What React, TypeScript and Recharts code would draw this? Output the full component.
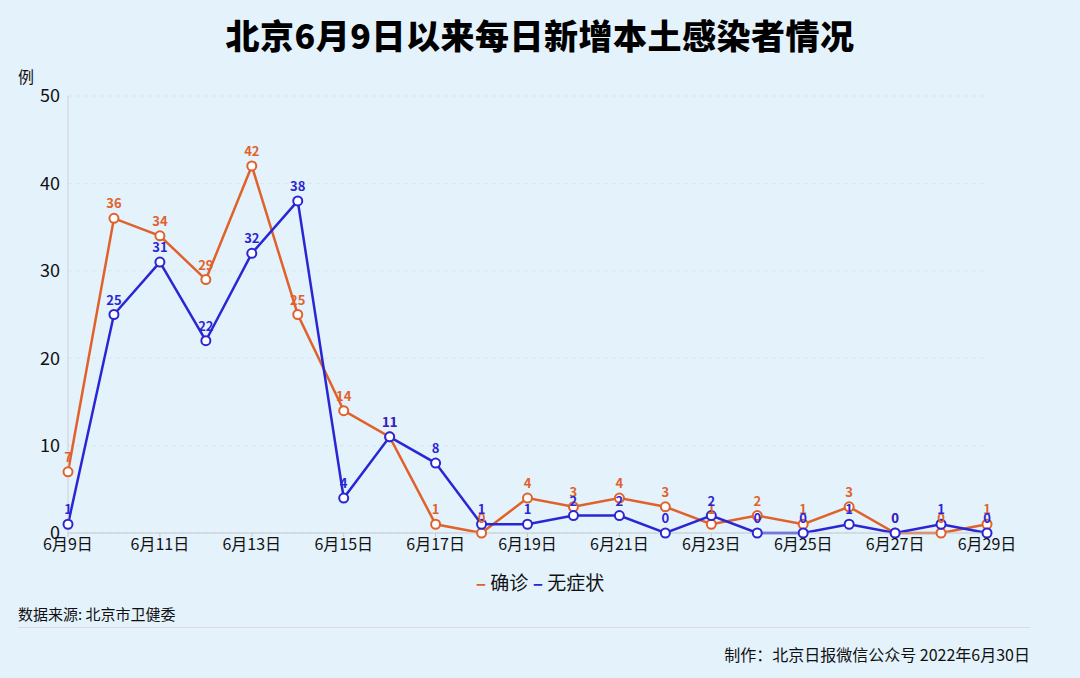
import { LineChart, Line, XAxis, YAxis, CartesianGrid, LabelList } from "recharts";

const dates = [
  "6月9日", "6月10日", "6月11日", "6月12日", "6月13日", "6月14日", "6月15日",
  "6月16日", "6月17日", "6月18日", "6月19日", "6月20日", "6月21日", "6月22日",
  "6月23日", "6月24日", "6月25日", "6月26日", "6月27日", "6月28日", "6月29日",
];
const confirmed = [7, 36, 34, 29, 42, 25, 14, 11, 1, 0, 4, 3, 4, 3, 1, 2, 1, 3, 0, 0, 1];
const asymptomatic = [1, 25, 31, 22, 32, 38, 4, 11, 8, 1, 1, 2, 2, 0, 2, 0, 0, 1, 0, 1, 0];
const yTicks = [0, 10, 20, 30, 40, 50];

const ORANGE = "#e0622a";
const BLUE = "#2a26d4";
const CJK = '"Noto Sans CJK SC", "Noto Sans", sans-serif';

const data = dates.map((d, i) => ({
  date: d,
  confirmed: confirmed[i],
  asymptomatic: asymptomatic[i],
}));

export default function App() {
  return (
    <div
      style={{
        position: "fixed",
        left: 0,
        top: 0,
        width: 1080,
        height: 678,
        background: "#e4f2fc",
        fontFamily: CJK,
        overflow: "hidden",
      }}
    >
      <div
        style={{
          position: "absolute",
          top: 10,
          left: 0,
          width: 1080,
          textAlign: "center",
          fontSize: 34,
          fontWeight: 900,
          color: "#000",
          letterSpacing: 0.5,
        }}
      >
        北京6月9日以来每日新增本土感染者情况
      </div>
      <div style={{ position: "absolute", left: 18, top: 64, fontSize: 16, color: "#111" }}>例</div>

      <div style={{ position: "absolute", left: 0, top: 0 }}>
        <LineChart
          width={1080}
          height={678}
          data={data}
          margin={{ top: 96, right: 93, bottom: 115, left: 8 }}
        >
          <CartesianGrid vertical={false} stroke="#d8e6f0" strokeDasharray="4 4" />
          <XAxis
            dataKey="date"
            interval={1}
            height={30}
            stroke="#c8c8c8"
            tickLine={{ stroke: "#c8c8c8" }}
            tickSize={4}
            tick={{ fill: "#111", fontSize: 16, fontFamily: CJK }}
          />
          <YAxis
            width={60}
            domain={[0, 50]}
            ticks={yTicks}
            stroke="#d0d0d0"
            tickLine={false}
            tick={{ fill: "#111", fontSize: 18, fontFamily: CJK }}
          />
          <Line
            dataKey="confirmed"
            stroke={ORANGE}
            strokeWidth={2.5}
            dot={{ r: 4.5, fill: "#fff", stroke: ORANGE, strokeWidth: 2 }}
            isAnimationActive={false}
          >
            <LabelList
              dataKey="confirmed"
              position="top"
              offset={10}
              fill={ORANGE}
              fontSize={13}
              fontWeight={700}
              fontFamily={CJK}
            />
          </Line>
          <Line
            dataKey="asymptomatic"
            stroke={BLUE}
            strokeWidth={2.5}
            dot={{ r: 4.5, fill: "#fff", stroke: BLUE, strokeWidth: 2 }}
            isAnimationActive={false}
          >
            <LabelList
              dataKey="asymptomatic"
              position="top"
              offset={10}
              fill={BLUE}
              fontSize={13}
              fontWeight={700}
              fontFamily={CJK}
            />
          </Line>
        </LineChart>
      </div>

      <div
        style={{
          position: "absolute",
          top: 568,
          left: 0,
          width: 1080,
          textAlign: "center",
          fontSize: 19,
          color: "#111",
        }}
      >
        <span style={{ color: ORANGE, fontWeight: 700 }}>–</span> 确诊{" "}
        <span style={{ color: BLUE, fontWeight: 700 }}>–</span> 无症状
      </div>

      <div style={{ position: "absolute", left: 18, top: 603, fontSize: 15, color: "#111" }}>
        数据来源: 北京市卫健委
      </div>
      <div
        style={{
          position: "absolute",
          left: 18,
          top: 627,
          width: 1012,
          height: 1,
          background: "#e2d6e0",
        }}
      />
      <div
        style={{
          position: "absolute",
          right: 50,
          top: 642,
          fontSize: 16,
          color: "#111",
        }}
      >
        制作：北京日报微信公众号 2022年6月30日
      </div>
    </div>
  );
}
